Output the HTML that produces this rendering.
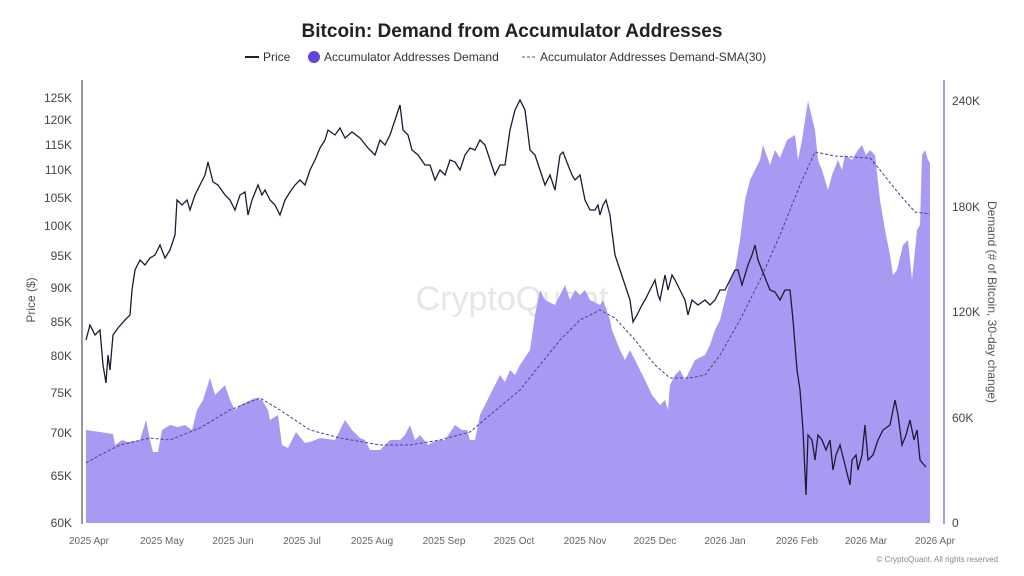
<!DOCTYPE html><html><head><meta charset="utf-8"><style>body{margin:0;background:#fff}svg{display:block;font-family:"Liberation Sans",sans-serif}</style></head><body>
<svg width="1024" height="576" viewBox="0 0 1024 576">
<text x="512" y="37" text-anchor="middle" font-size="19" font-weight="bold" fill="#222">Bitcoin: Demand from Accumulator Addresses</text>
<g font-size="12" fill="#333">
<line x1="245" y1="57" x2="259" y2="57" stroke="#222" stroke-width="2"/><text x="263" y="61">Price</text>
<circle cx="314" cy="57" r="6" fill="#5b47e0"/><text x="324" y="61">Accumulator Addresses Demand</text>
<line x1="522" y1="57" x2="536" y2="57" stroke="#5b4fa8" stroke-dasharray="3,2"/><text x="540" y="61">Accumulator Addresses Demand-SMA(30)</text>
</g>
<line x1="82" y1="80" x2="82" y2="524" stroke="#333"/>
<line x1="944" y1="80" x2="944" y2="524" stroke="#8a7be8" stroke-width="1.5"/>
<g font-size="12" fill="#444" text-anchor="end">
<text x="72" y="102">125K</text><text x="72" y="124">120K</text><text x="72" y="149">115K</text><text x="72" y="174">110K</text><text x="72" y="202">105K</text><text x="72" y="230">100K</text><text x="72" y="260">95K</text><text x="72" y="292">90K</text><text x="72" y="326">85K</text><text x="72" y="360">80K</text><text x="72" y="397">75K</text><text x="72" y="437">70K</text><text x="72" y="480">65K</text><text x="72" y="527">60K</text></g>
<g font-size="12" fill="#444"><text x="952" y="105">240K</text><text x="952" y="211">180K</text><text x="952" y="316">120K</text><text x="952" y="422">60K</text><text x="952" y="527">0</text></g>
<text transform="translate(35,300) rotate(-90)" text-anchor="middle" font-size="12" fill="#555">Price ($)</text>
<text transform="translate(988,302) rotate(90)" text-anchor="middle" font-size="12" fill="#555">Demand (# of Bitcoin, 30-day change)</text>
<g font-size="10" fill="#666" text-anchor="middle"><text x="89" y="544">2025 Apr</text><text x="162" y="544">2025 May</text><text x="233" y="544">2025 Jun</text><text x="302" y="544">2025 Jul</text><text x="372" y="544">2025 Aug</text><text x="444" y="544">2025 Sep</text><text x="514" y="544">2025 Oct</text><text x="585" y="544">2025 Nov</text><text x="655" y="544">2025 Dec</text><text x="725" y="544">2026 Jan</text><text x="797" y="544">2026 Feb</text><text x="866" y="544">2026 Mar</text><text x="935" y="544">2026 Apr</text></g>
<text x="998" y="562" text-anchor="end" font-size="8" fill="#888">© CryptoQuant. All rights reserved</text>
<text x="512" y="310" text-anchor="middle" font-size="34" fill="#e6e6e6">CryptoQuant</text>
<polygon fill="#a594f2" fill-opacity="0.95" points="86,523 86,430 100,432 113,434 115,445 122,440 128,442 140,440 146,420 150,440 153,452 158,452 162,430 170,425 178,427 185,425 192,430 197,410 203,400 210,378 215,395 220,390 225,385 230,400 235,410 240,405 255,398 262,400 268,410 270,420 278,415 282,445 288,448 292,440 296,432 300,437 305,443 310,442 320,438 335,440 345,420 352,430 360,438 365,440 370,450 380,450 390,440 400,440 405,435 410,425 415,440 420,435 428,445 433,442 440,440 445,440 455,425 462,430 467,430 470,440 475,440 480,415 490,395 500,375 505,382 510,370 515,375 520,365 530,350 535,315 540,290 545,300 555,305 565,285 570,300 575,290 580,295 585,290 590,300 600,305 603,300 610,320 612,330 620,350 625,360 630,350 640,370 645,380 652,395 660,405 665,400 668,410 670,385 675,375 680,370 685,380 695,360 705,355 710,345 715,330 720,320 725,300 730,280 735,270 740,240 745,200 750,180 760,160 763,145 770,165 775,150 780,158 787,140 795,135 798,160 802,140 805,120 808,101 815,130 818,160 822,170 828,190 832,175 838,160 842,170 845,155 852,160 858,150 862,145 866,155 870,150 875,155 880,200 885,230 890,255 893,275 897,270 903,245 908,240 912,280 917,230 920,225 922,155 925,150 928,160 930,163 930,523"/>
<polyline fill="none" stroke="#4a3f8a" stroke-width="1" stroke-dasharray="3,2" points="86,463 100,455 120,445 150,438 170,440 200,428 230,410 260,398 280,410 310,430 340,438 380,445 410,445 440,440 470,432 490,415 520,390 540,365 560,340 580,320 600,310 615,318 635,340 655,365 670,378 690,378 705,375 720,355 740,320 760,280 780,235 800,185 815,152 835,156 870,158 880,170 900,195 915,212 930,214"/>
<polyline fill="none" stroke="#1e1a33" stroke-width="1.3" points="86,340 90,325 95,335 100,330 103,365 106,383 108,355 110,370 113,335 118,328 125,320 130,315 132,290 135,270 140,260 145,265 150,258 155,255 160,245 165,258 170,250 175,235 177,200 182,205 187,200 190,210 195,195 200,185 205,175 208,162 213,182 218,185 225,195 230,200 235,210 240,195 245,192 248,215 252,200 258,185 262,195 265,190 270,200 275,205 280,215 285,200 290,192 295,185 300,180 305,185 310,170 315,160 320,148 325,140 328,130 335,135 340,128 345,138 352,132 360,138 368,148 375,155 380,140 385,145 390,135 395,120 400,105 403,130 408,135 412,150 418,155 425,165 430,165 435,180 440,170 445,175 450,160 455,162 460,170 465,155 470,148 475,150 480,140 485,145 490,160 495,175 500,165 505,165 510,130 515,110 520,100 525,110 530,150 535,155 540,170 545,185 550,175 555,190 560,155 563,152 568,165 572,175 575,180 580,175 585,200 590,210 595,210 598,205 600,215 603,205 606,200 610,215 612,232 615,255 620,270 625,285 630,300 633,322 637,315 642,305 645,300 650,290 655,280 658,295 660,300 665,275 668,290 672,275 675,280 680,290 685,300 688,315 692,300 698,305 705,300 710,305 715,300 720,290 725,290 730,280 735,270 738,270 742,285 748,265 752,255 755,245 758,260 762,270 766,280 770,290 775,292 780,300 785,290 790,290 793,320 797,370 800,390 803,430 806,495 808,435 812,440 815,460 818,435 822,440 826,450 830,440 833,470 836,455 840,445 845,465 850,485 852,460 856,455 858,470 862,455 865,425 868,460 873,455 878,440 883,430 890,425 895,400 898,415 902,445 906,435 910,420 914,440 917,430 920,460 924,465 926,467"/>
</svg></body></html>
